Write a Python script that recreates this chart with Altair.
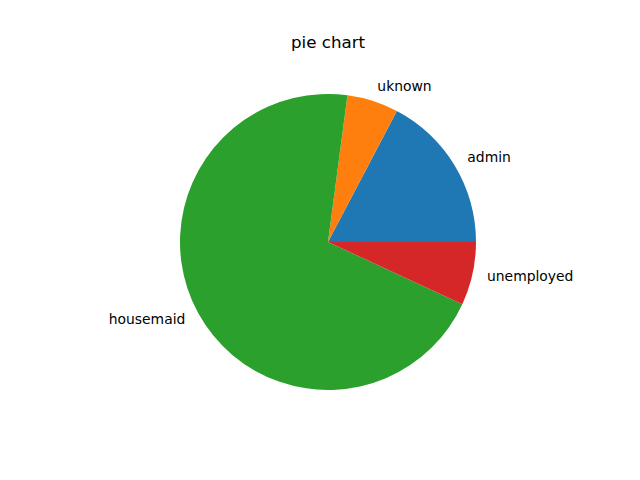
import altair as alt
import pandas as pd
import math

categories = ["admin", "uknown", "housemaid", "unemployed"]
shares = [17.3, 5.6, 70.2, 6.9]
colors = ["#1f77b4", "#ff7f0e", "#2ca02c", "#d62728"]

df = pd.DataFrame({
    "category": categories,
    "share": shares,
    "order": [4, 3, 2, 1],  # matplotlib draws counter-clockwise from 3 o'clock
})

cx, cy, r = 320, 184, 148
theta_scale = alt.Scale(range=[math.pi / 2, math.pi / 2 + 2 * math.pi])

base = alt.Chart(df).encode(
    theta=alt.Theta("share:Q", stack=True, scale=theta_scale),
    order=alt.Order("order:Q"),
)

arcs = base.mark_arc(outerRadius=r).encode(
    color=alt.Color("category:N", scale=alt.Scale(domain=categories, range=colors), legend=None),
    x=alt.value(cx),
    y=alt.value(cy),
)

label_font = "DejaVu Sans"
right_labels = base.mark_text(
    radius=r * 1.1, align="left", baseline="middle", font=label_font, fontSize=13.9, color="black"
).encode(
    text=alt.condition("datum.category != 'housemaid'", alt.Text("category:N"), alt.value("")),
    x=alt.value(cx),
    y=alt.value(cy),
)
left_labels = base.mark_text(
    radius=r * 1.1, align="right", baseline="middle", font=label_font, fontSize=13.9, color="black"
).encode(
    text=alt.condition("datum.category == 'housemaid'", alt.Text("category:N"), alt.value("")),
    x=alt.value(cx),
    y=alt.value(cy),
)

chart = alt.layer(arcs, right_labels, left_labels).properties(
    width=624,
    height=414,
    autosize=alt.AutoSizeParams(type="none"),
    padding={"left": 0, "top": 50, "right": 0, "bottom": 0},
    title=alt.TitleParams("pie chart", font=label_font, fontSize=16.7, fontWeight="normal",
                          color="black", anchor="middle", offset=6, dx=8),
).configure_view(stroke=None)

chart.save("out.html", embed_options={"renderer": "svg", "actions": False})
